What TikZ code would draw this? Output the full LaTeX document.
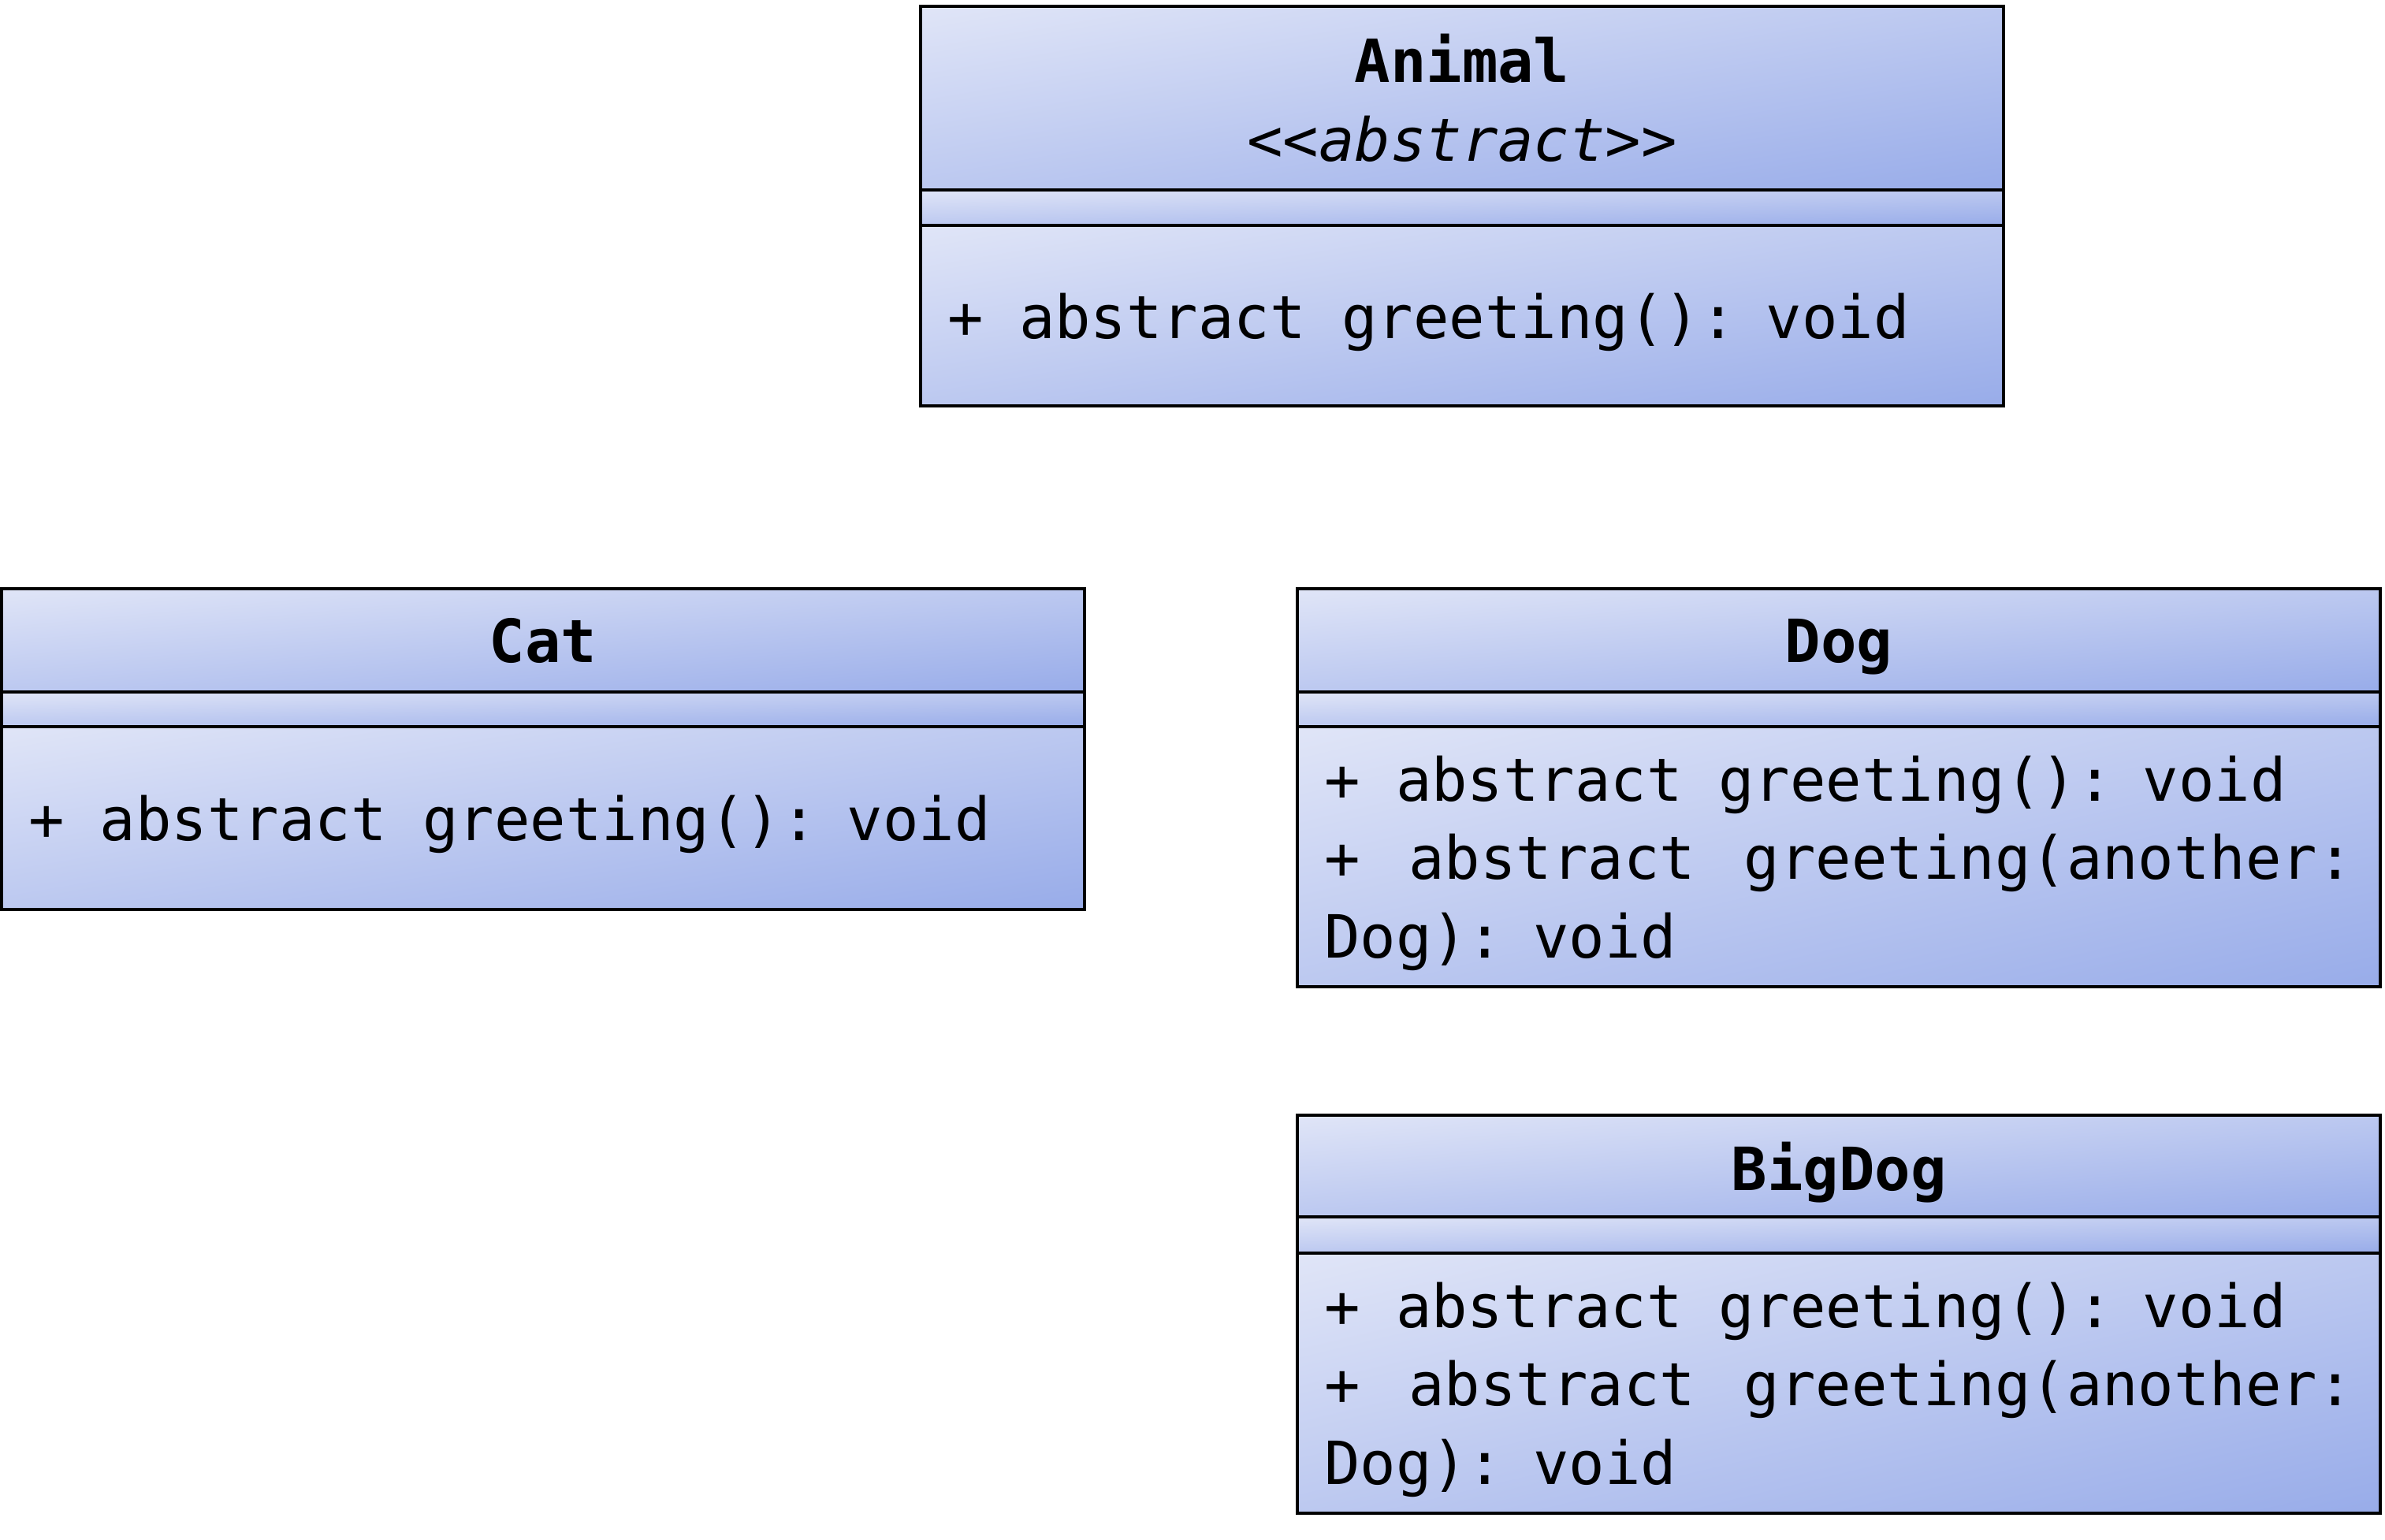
\documentclass[tikz,border=0pt]{standalone}
\usepackage{fontspec}
\setmainfont{DejaVu Sans Mono}
\usetikzlibrary{positioning}
% light corner (224,229,247) to dark corner (152,172,233), top left to bottom right
\pgfdeclarefunctionalshading{umlgrad}{\pgfpointorigin}{\pgfpoint{100bp}{100bp}}{}{
  sub 50 add 100 div
  dup 0 lt {pop 0} if dup 1 gt {pop 1} if
  dup -0.282 mul 0.878 add exch
  dup -0.224 mul 0.898 add exch
  -0.055 mul 0.969 add
}
\newcommand\monospaces{\spaceskip=0.602em\relax}
\begin{document}
\begin{tikzpicture}[
    part/.style={draw,line width=1.1pt,shade,shading=umlgrad,
      minimum width=13.74cm,inner sep=0pt,outer sep=0pt},
    title/.style={part,text width=13.06cm,align=center,
      font=\fontsize{21.5}{28.3}\selectfont\bfseries,execute at begin node=\monospaces},
    ops/.style={part,text width=13.06cm,inner xsep=0.34cm,align=left,
      font=\fontsize{21.5}{28.3}\selectfont,execute at begin node=\monospaces}
  ]
  \useasboundingbox (0,0) rectangle (30.26,-19.53);
  % Animal
  \node[title,minimum height=2.33cm,anchor=north west] (animal) at (11.68,-0.08)
    {Animal\\\mdseries\itshape <\kern0pt<abstract>\kern0pt>};
  \node[part,minimum height=0.45cm,below=0pt of animal] (animalattr) {};
  \node[ops,text depth=0pt,minimum height=2.29cm,below=0pt of animalattr] (animalops)
    {+ abstract greeting(): void};
  % Cat
  \node[title,text depth=0pt,minimum height=1.31cm,anchor=north west] (cat) at (0.02,-7.47) {Cat};
  \node[part,minimum height=0.44cm,below=0pt of cat] (catattr) {};
  \node[ops,text depth=0pt,minimum height=2.32cm,below=0pt of catattr] (catops)
    {+ abstract greeting(): void};
  % Dog
  \node[title,text depth=0pt,minimum height=1.31cm,anchor=north west] (dog) at (16.46,-7.47) {Dog};
  \node[part,minimum height=0.44cm,below=0pt of dog] (dogattr) {};
  \node[ops,text depth=56.6pt,minimum height=3.30cm,below=0pt of dogattr] (dogops)
    {+ abstract greeting(): void\\
     \makebox[\hsize][l]{+ \hfill abstract \hfill greeting(another:}\\
     Dog): void};
  % BigDog
  \node[title,text depth=0pt,minimum height=1.29cm,anchor=north west] (bigdog) at (16.46,-14.15) {BigDog};
  \node[part,minimum height=0.46cm,below=0pt of bigdog] (bigdogattr) {};
  \node[ops,text depth=56.6pt,minimum height=3.30cm,below=0pt of bigdogattr] (bigdogops)
    {+ abstract greeting(): void\\
     \makebox[\hsize][l]{+ \hfill abstract \hfill greeting(another:}\\
     Dog): void};
\end{tikzpicture}
\end{document}
